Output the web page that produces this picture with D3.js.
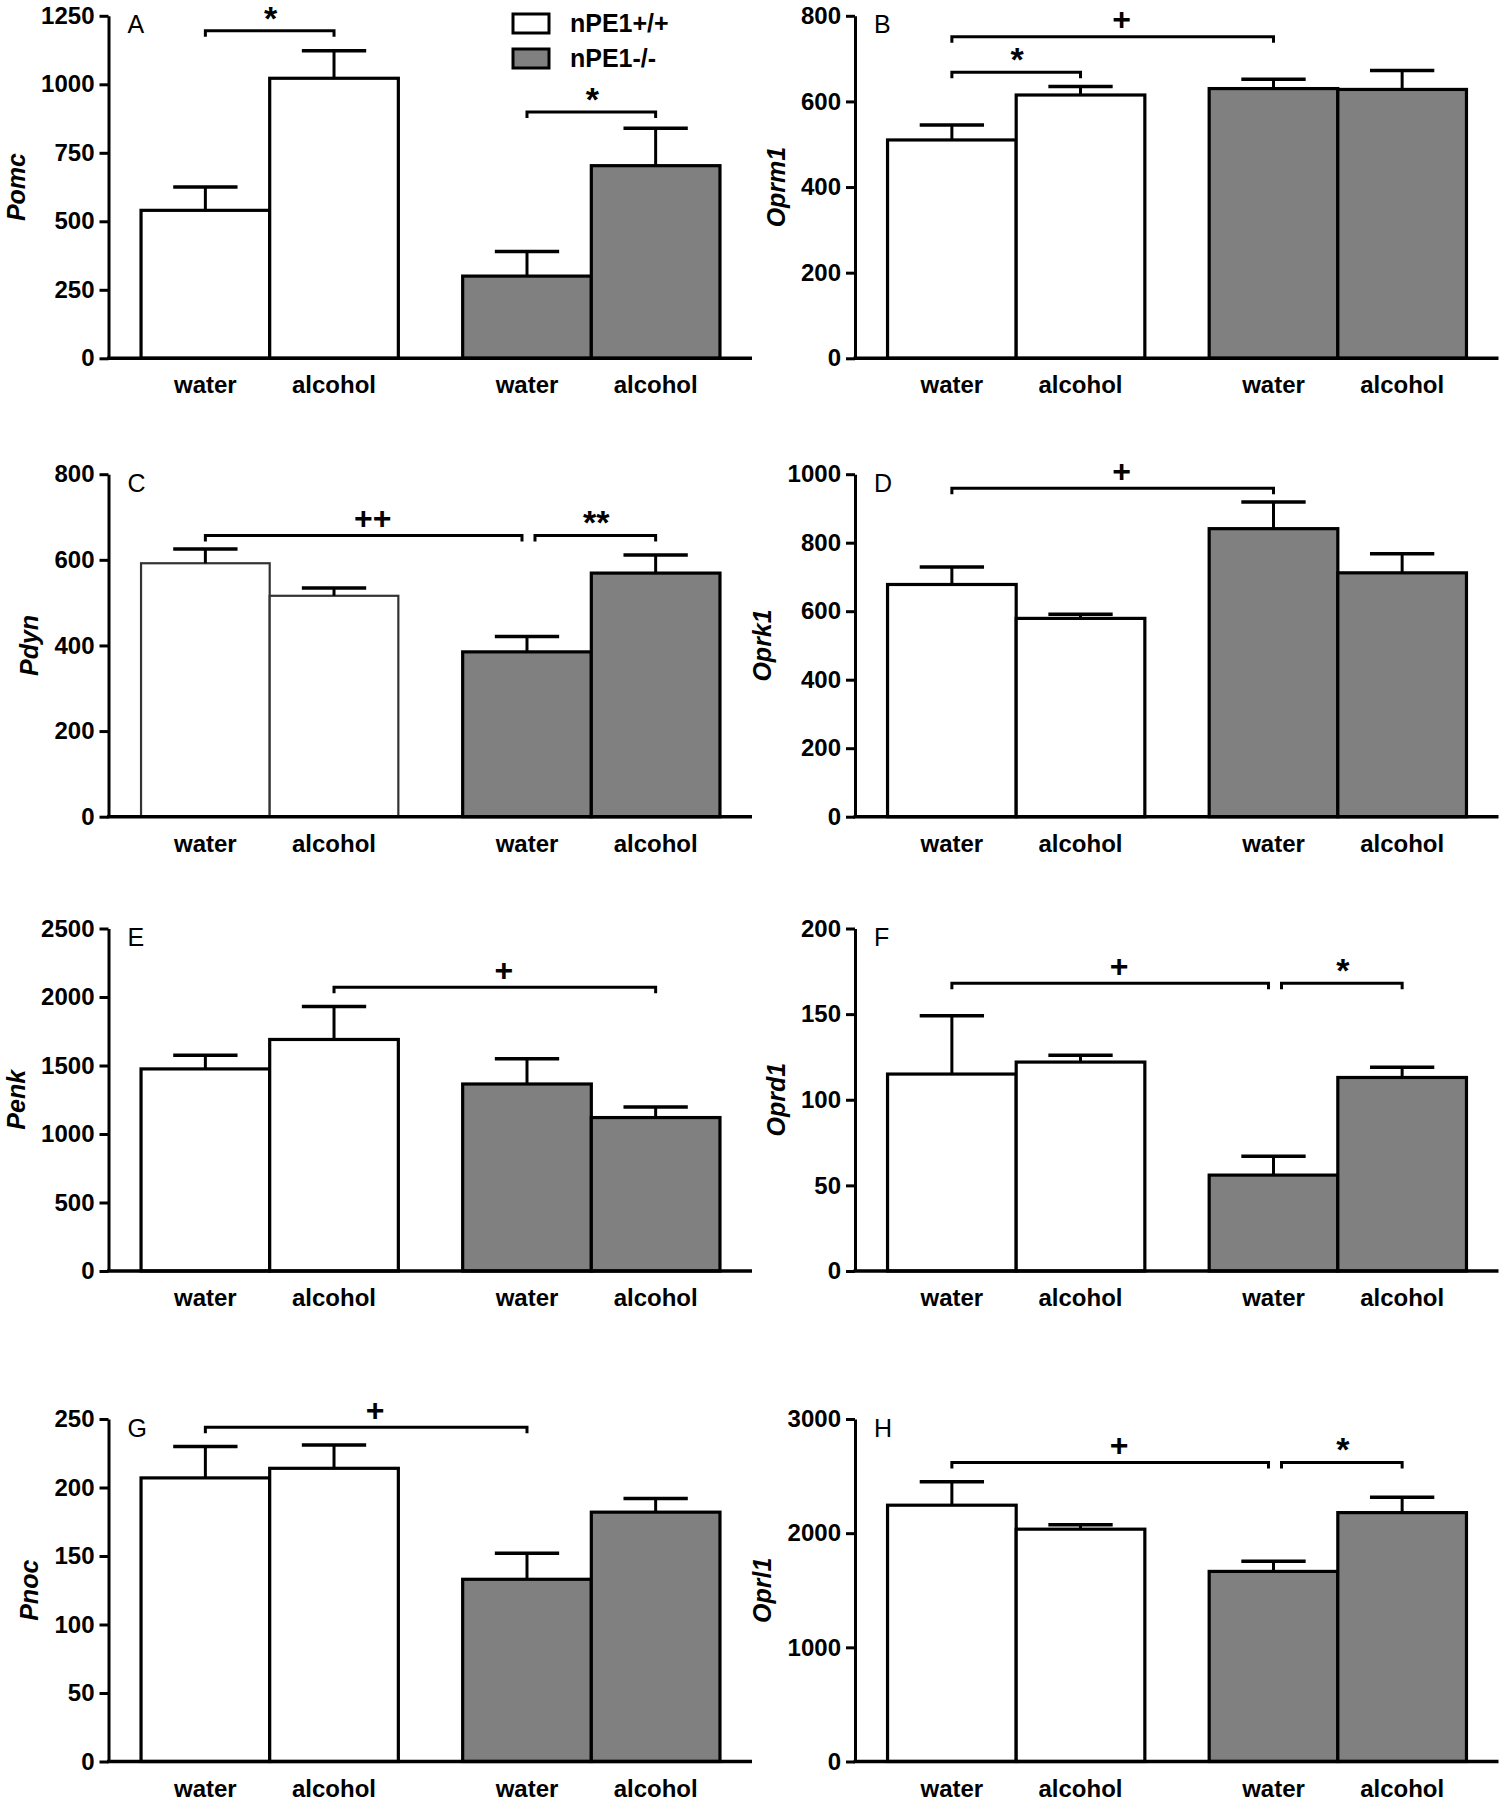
<!DOCTYPE html>
<html>
<head>
<meta charset="utf-8">
<script src="https://cdn.jsdelivr.net/npm/d3@7"></script>
<style>
  body { margin: 0; background: #fff; }
  text { font-family: "Liberation Sans", Arial, sans-serif; }
</style>
</head>
<body>
<svg id="chart" width="1504" height="1800"></svg>
<script>
// gene panels, in reading order A..H
const genes = ['Pomc', 'Oprm1', 'Pdyn', 'Oprk1', 'Penk', 'Oprd1', 'Pnoc', 'Oprl1'];
const letters = ['A', 'B', 'C', 'D', 'E', 'F', 'G', 'H'];
const conditions = ['water', 'alcohol'];
const genotypes = ['nPE1+/+', 'nPE1-/-'];

// y axis ranges
const yMax = [1250, 800, 800, 1000, 2500, 200, 250, 3000];
const tickStep = [250, 200, 200, 200, 500, 50, 50, 1000];

// means and SEM, [water, alcohol]
const wtMean = [[540, 1022], [510, 615], [592, 516], [678, 579], [1475, 1690], [115, 122], [207, 214], [2245, 2035]];
const wtSem  = [[85, 100], [35, 20], [33, 18], [51, 12], [100, 240], [34, 4], [23, 17], [205, 38]];
const koMean = [[300, 703], [630, 628], [385, 569], [841, 712], [1365, 1120], [56, 113], [133, 182], [1665, 2180]];
const koSem  = [[90, 137], [22, 44], [36, 42], [78, 56], [185, 77], [11, 6], [19, 10], [90, 135]];

// significance brackets: bars a..b (0 wt water, 1 wt alcohol, 2 ko water, 3 ko alcohol), level in data units
const brackets = [
  [{a: 0, b: 1, level: 1195, label: '*'}, {a: 2, b: 3, level: 899, label: '*'}],
  [{a: 0, b: 2, level: 751, label: '+'}, {a: 0, b: 1, level: 668, label: '*'}],
  [{a: 0, b: 2, level: 657, label: '++'}, {a: 2, b: 3, level: 657, label: '**'}],
  [{a: 0, b: 2, level: 959, label: '+'}],
  [{a: 1, b: 3, level: 2072, label: '+'}],
  [{a: 0, b: 2, level: 168, label: '+'}, {a: 2, b: 3, level: 168, label: '*'}],
  [{a: 0, b: 2, level: 244, label: '+'}],
  [{a: 0, b: 2, level: 2620, label: '+'}, {a: 2, b: 3, level: 2620, label: '*'}]
];

const fills = ['#ffffff', '#808080'];

const W = 643.5, H = 342.5;
const colX = [108.5, 855];
const rowBase = [358.3, 816.7, 1271, 1761.5];

const svg = d3.select('#chart');
svg.append('rect').attr('width', 1504).attr('height', 1800).attr('fill', '#fff');

const x = d3.scaleLinear().domain([-0.253, 4.749]).range([0, W]);
const slot = i => (i < 2 ? i : i + 0.5);
const center = i => x(slot(i) + 0.5);

genes.forEach((gene, p) => {
    const g = svg.append('g')
        .attr('transform', `translate(${colX[p % 2]},${rowBase[Math.floor(p / 2)] - H})`);

    const y = d3.scaleLinear().domain([0, yMax[p]]).range([H, 0]);

    let bars = [];
    [wtMean[p], koMean[p]].forEach((means, k) => {
        means.forEach((v, c) => {
            bars.push({i: k * 2 + c, geno: k, cond: c, v: v,
                       e: (k === 0 ? wtSem[p] : koSem[p])[c]});
        });
    });

    // the Pdyn control bars have a lighter outline in the original
    const thin = d => gene === 'Pdyn' && d.geno === 0;

    g.selectAll('rect.bar')
        .data(bars)
        .enter()
        .append('rect')
        .attr('class', 'bar')
        .attr('x', d => x(slot(d.i)))
        .attr('width', d => x(slot(d.i) + 1) - x(slot(d.i)))
        .attr('y', d => y(d.v))
        .attr('height', d => H - y(d.v))
        .attr('fill', d => fills[d.geno])
        .attr('stroke', d => thin(d) ? '#333' : '#000')
        .attr('stroke-width', d => thin(d) ? 2.2 : 3.2);

    // upper error bars
    const capW = x(0.25) - x(0);
    bars.forEach(d => {
        g.append('line')
            .attr('x1', center(d.i)).attr('x2', center(d.i))
            .attr('y1', y(d.v)).attr('y2', y(d.v + d.e))
            .attr('stroke', '#000').attr('stroke-width', 3);
        g.append('line')
            .attr('x1', center(d.i) - capW).attr('x2', center(d.i) + capW)
            .attr('y1', y(d.v + d.e)).attr('y2', y(d.v + d.e))
            .attr('stroke', '#000').attr('stroke-width', 3.5);
    });

    // y axis
    const yAxis = g.append('g')
        .call(d3.axisLeft(y)
            .tickValues(d3.range(0, yMax[p] + 1, tickStep[p]))
            .tickFormat(d3.format('d'))
            .tickSize(9)
            .tickPadding(5)
            .tickSizeOuter(0));
    yAxis.select('.domain').attr('stroke', '#000').attr('stroke-width', 3);
    yAxis.selectAll('.tick line').attr('stroke', '#000').attr('stroke-width', 3);
    yAxis.selectAll('.tick text')
        .attr('fill', '#000')
        .style('font-size', '24px')
        .style('font-weight', 'bold')
        .style('font-family', '"Liberation Sans", Arial, sans-serif');

    // x axis line
    g.append('line')
        .attr('x1', -1.5).attr('x2', W)
        .attr('y1', H).attr('y2', H)
        .attr('stroke', '#000').attr('stroke-width', 3.5);

    // category labels
    g.selectAll('text.cat')
        .data(bars)
        .enter()
        .append('text')
        .attr('class', 'cat')
        .attr('x', d => center(d.i))
        .attr('y', H + 35)
        .attr('text-anchor', 'middle')
        .style('font-size', '24px')
        .style('font-weight', 'bold')
        .text(d => conditions[d.cond]);

    // y title, placed left of the widest tick label
    let maxW = 0;
    yAxis.selectAll('.tick text').each(function () {
        maxW = Math.max(maxW, this.getComputedTextLength());
    });
    g.append('text')
        .attr('transform', `translate(${-(9 + 5 + maxW) - 25},${H / 2}) rotate(-90)`)
        .attr('text-anchor', 'middle')
        .attr('dy', '0.35em')
        .style('font-size', '25px')
        .style('font-weight', 'bold')
        .style('font-style', 'italic')
        .text(gene);

    // panel letter
    g.append('text')
        .attr('x', 19)
        .attr('y', 17.5)
        .style('font-size', '25px')
        .text(letters[p]);

    // significance brackets
    const br = brackets[p];
    br.forEach(b => {
        let x1 = center(b.a), x2 = center(b.b);
        if (br.some(o => o !== b && o.a === b.b && o.level === b.level)) x2 -= 5;
        if (br.some(o => o !== b && o.b === b.a && o.level === b.level)) x1 += 8;
        const yl = y(b.level);
        g.append('path')
            .attr('d', `M${x1},${yl + 6}V${yl}H${x2}V${yl + 6}`)
            .attr('fill', 'none')
            .attr('stroke', '#000')
            .attr('stroke-width', 3);
        const star = b.label.indexOf('*') >= 0;
        // the plus signs sit a little right of the bracket middle
        g.append('text')
            .attr('x', (x1 + x2) / 2 + (star ? 1 : 9))
            .attr('y', star ? yl - 1 : yl - 6.5)
            .attr('text-anchor', 'middle')
            .style('font-size', star ? '34px' : '32px')
            .style('font-weight', 'bold')
            .text(b.label);
    });
});

// legend (inside panel A)
const legend = svg.append('g').attr('transform', 'translate(513,14)');
genotypes.forEach((name, k) => {
    legend.append('rect')
        .attr('x', 0).attr('y', k * 35)
        .attr('width', 36).attr('height', 19)
        .attr('fill', fills[k])
        .attr('stroke', '#000')
        .attr('stroke-width', 3);
    legend.append('text')
        .attr('x', 57).attr('y', k * 35 + 18)
        .style('font-size', '25px')
        .style('font-weight', 'bold')
        .text(name);
});
</script>
</body>
</html>
